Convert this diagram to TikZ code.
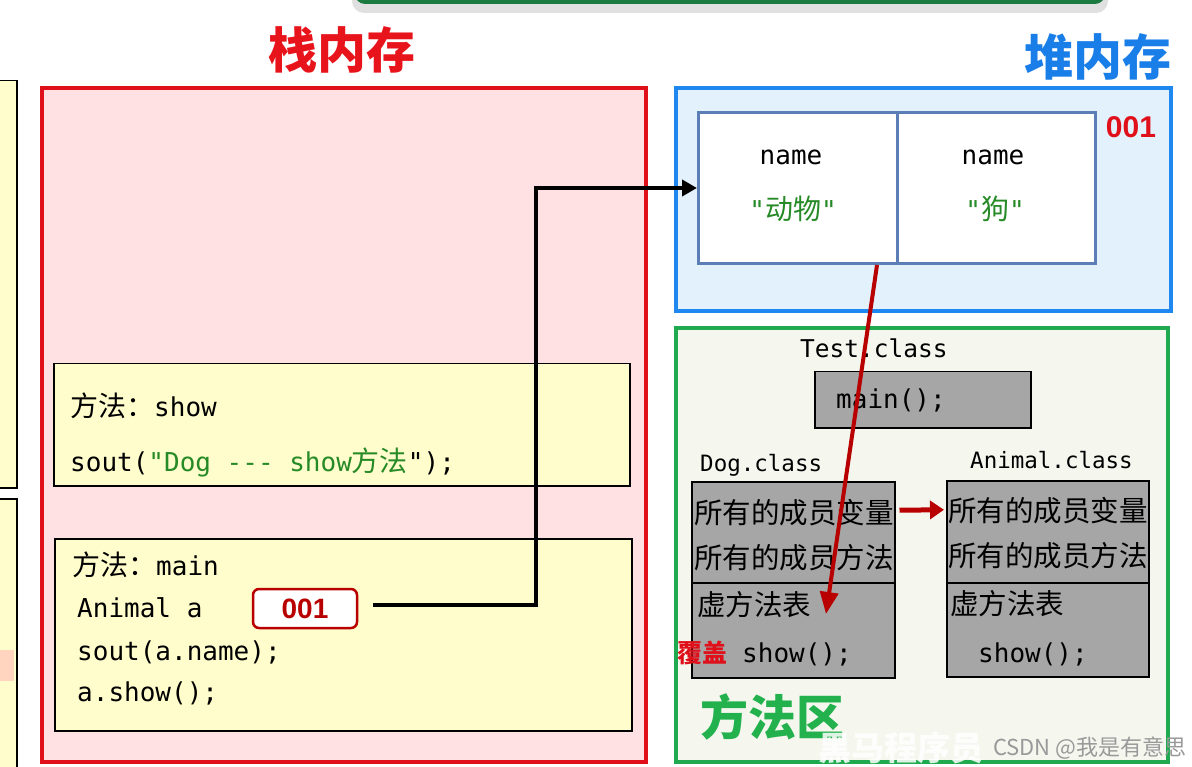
\documentclass[tikz,border=0pt]{standalone}
\usepackage{fontspec}
\setmainfont{DejaVu Sans}
\newfontfamily\cjk{Noto Sans CJK SC}
\newfontfamily\mono{DejaVu Sans Mono}
\newfontfamily\lsans{Liberation Sans}
\usetikzlibrary{arrows.meta}
\definecolor{stkred}{HTML}{E0101A}
\definecolor{stkfill}{HTML}{FFE1E4}
\definecolor{titred}{HTML}{E8141C}
\definecolor{yel}{HTML}{FFFDCC}
\definecolor{heapblue}{HTML}{1E88F0}
\definecolor{heapfill}{HTML}{E3F1FD}
\definecolor{titblue}{HTML}{1A7EE8}
\definecolor{objblue}{HTML}{5A7EB5}
\definecolor{mgreen}{HTML}{1FAA4F}
\definecolor{mfill}{HTML}{F5F7EF}
\definecolor{titgreen}{HTML}{22B14C}
\definecolor{boxgrey}{HTML}{A6A6A6}
\definecolor{dred}{HTML}{B80000}
\definecolor{strgreen}{HTML}{268A26}
\definecolor{topgreen}{HTML}{1B7A40}
\definecolor{shadowgrey}{HTML}{E0E0E0}
\definecolor{pinkpatch}{HTML}{FFD5C0}
\newcommand\zh[1]{{\cjk\fontsize{28}{30}\selectfont #1}}
\tikzset{
  region/.style={draw, line width=4pt, inner sep=0pt, anchor=north west},
  ybox/.style={draw=black, line width=1.5pt, fill=yel, inner sep=0pt, anchor=north west},
  gbox/.style={draw=black, line width=1.5pt, fill=boxgrey, inner sep=0pt, anchor=north west},
  objbox/.style={draw=objblue, line width=3pt, fill=white, inner sep=0pt, anchor=north west},
  code/.style={font=\mono\fontsize{26}{30}\selectfont, inner sep=0pt, anchor=base west},
  smallcode/.style={font=\mono\fontsize{22.5}{26}\selectfont, inner sep=0pt, anchor=base west},
  zhtext/.style={font=\cjk\fontsize{28.5}{30}\selectfont, inner sep=0pt, anchor=base west},
  title/.style={font=\cjk\bfseries\fontsize{49}{52}\selectfont, inner sep=0pt},
  blkarrow/.style={draw=black, line width=4pt, -{Triangle[length=15pt,width=16pt]}},
  redarrow/.style={draw=dred, line width=4pt, -{Triangle[length=22pt,width=18pt]}},
}
\begin{document}
\begin{tikzpicture}[x=1pt,y=-1pt]
\useasboundingbox (0,0) rectangle (1192,767);
% partial elements at edges
\fill[shadowgrey, rounded corners=12pt] (352,-30) rectangle (1108,13);
\fill[topgreen, rounded corners=10pt] (355,-30) rectangle (1105,4);
\node[ybox, minimum width=22pt, minimum height=407pt] (leftA) at (-6,80) {};
\node[ybox, minimum width=22pt, minimum height=280pt] (leftB) at (-6,498) {};
\fill[pinkpatch] (0,650) rectangle (13.5,681);

% stack memory
\node[title, text=titred] (stktitle) at (342,50) {栈内存};
\node[region, draw=stkred, fill=stkfill, minimum width=604pt, minimum height=674pt] (stack) at (40,86) {};
\node[ybox, minimum width=576pt, minimum height=122pt] (showbox) at (53,363) {};
\node[ybox, minimum width=577pt, minimum height=192pt] (mainbox) at (54,538) {};
\node[code] (t1) at (70,416) {\zh{方法：}show};
\node[code] (t2) at (70,471) {sout(\textcolor{strgreen}{"Dog --- show\zh{方法}}");};
\node[code] (t3) at (72,575) {\zh{方法：}main};
\node[code] (t4) at (77,617) {Animal a};
\node[code] (t5) at (77,660) {sout(a.name);};
\node[code] (t6) at (77,701) {a.show();};
\node[draw=dred, line width=2.5pt, fill=white, rounded corners=6pt, minimum width=104pt, minimum height=39pt, inner sep=0pt, text=dred, font=\lsans\bfseries\fontsize{28}{30}\selectfont] (p001) at (305,608.5) {001};

% heap memory
\node[title, text=titblue] (heaptitle) at (1098,57) {堆内存};
\node[region, draw=heapblue, fill=heapfill, minimum width=495pt, minimum height=223pt] (heap) at (674,86) {};
\node[objbox, minimum width=199pt, minimum height=151pt] (obj1) at (697,111) {};
\node[objbox, minimum width=198pt, minimum height=151pt] (obj2) at (896,111) {};
\node[code, anchor=base] (n1) at (791,165) {name};
\node[code, anchor=base] (n2) at (993,165) {name};
\node[code, anchor=base, text=strgreen] (v1) at (793,220) {"\zh{动物}"};
\node[code, anchor=base, text=strgreen] (v2) at (995,220) {"\zh{狗}"};
\node[inner sep=0pt, text=stkred, font=\lsans\bfseries\fontsize{30}{32}\selectfont] (addr) at (1131,127) {001};

% method area
\node[region, draw=mgreen, fill=mfill, minimum width=492pt, minimum height=434pt] (method) at (674,326) {};
\node[smallcode, font=\mono\fontsize{24.5}{26}\selectfont] (testlbl) at (800,358) {Test.class};
\node[gbox, minimum width=216pt, minimum height=56pt] (mainm) at (814,371) {};
\node[code] (mainmt) at (836,409) {main();};
\node[smallcode] (doglbl) at (700,471) {Dog.class};
\node[smallcode] (animlbl) at (970,468) {Animal.class};
\node[gbox, minimum width=203pt, minimum height=101pt] (dogtop) at (691,481) {};
\node[gbox, minimum width=203pt, minimum height=95pt] (dogbot) at (691,582) {};
\node[gbox, minimum width=202pt, minimum height=102pt] (animtop) at (946,480) {};
\node[gbox, minimum width=202pt, minimum height=94pt] (animbot) at (946,582) {};
\node[zhtext] (d1) at (694,523) {所有的成员变量};
\node[zhtext] (d2) at (694,568) {所有的成员方法};
\node[zhtext] (d3) at (697,615) {虚方法表};
\node[inner sep=0pt, anchor=base west, text=stkred, font=\cjk\bfseries\fontsize{25}{27}\selectfont] (cover) at (677,662) {覆盖};
\node[code] (d4) at (742,662) {show();};
\node[zhtext] (a1) at (948,521) {所有的成员变量};
\node[zhtext] (a2) at (948,566) {所有的成员方法};
\node[zhtext] (a3) at (950,614) {虚方法表};
\node[code] (a4) at (978,662) {show();};
\node[title, text=titgreen, font=\cjk\bfseries\fontsize{48}{50}\selectfont] (mtitle) at (772,717) {方法区};

% connectors
\coordinate (bend) at (536,0);
\draw[blkarrow, shorten <=15pt] ([yshift=4pt]p001.east) -- ([yshift=4pt]p001.east -| bend) |- (obj1.west);
\coordinate (vt) at (826,614);
\draw[redarrow] ([xshift=-22pt]obj1.south east) -- (vt);
\draw[draw=dred, line width=5pt, -{Triangle[length=14pt,width=18pt]}, shorten <=4pt, shorten >=2pt] ([yshift=22pt]dogtop.east) -- ([yshift=22pt]animtop.west);

% watermark
\node[inner sep=0pt, anchor=base west, text=white, opacity=0.85, font=\cjk\bfseries\fontsize{33}{36}\selectfont] (wm1) at (818,760) {黑马程序员};
\node[inner sep=0pt, anchor=base west, text=black!40, font=\cjk\fontsize{22}{24}\selectfont] (wm2) at (993,755) {CSDN @我是有意思};
\end{tikzpicture}
\end{document}
